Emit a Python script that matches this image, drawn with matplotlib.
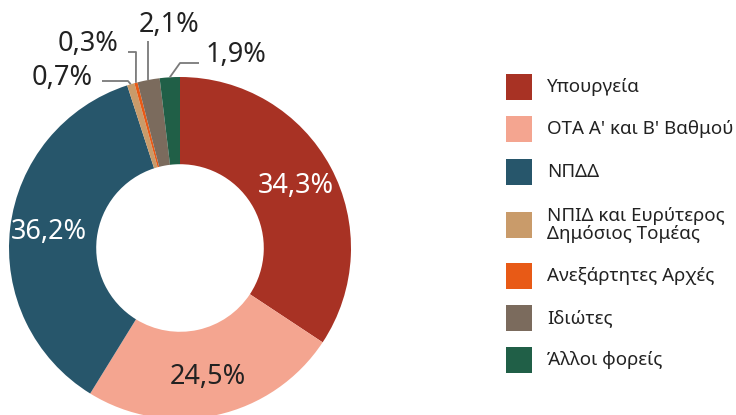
import matplotlib
matplotlib.use("Agg")
import matplotlib.pyplot as plt
import numpy as np
from matplotlib.patches import Rectangle

plt.rcParams["font.family"] = ["Noto Sans", "DejaVu Sans"]

labels = [
    "Υπουργεία",
    "ΟΤΑ Α' και Β' Βαθμού",
    "ΝΠΔΔ",
    "ΝΠΙΔ και Ευρύτερος\nΔημόσιος Τομέας",
    "Ανεξάρτητες Αρχές",
    "Ιδιώτες",
    "Άλλοι φορείς",
]
values = [34.3, 24.5, 36.2, 0.7, 0.3, 2.1, 1.9]
colors = ["#A83224", "#F4A590", "#27566B", "#C99B6A", "#E85A16", "#7B6B5D", "#205F47"]
inside_text = ["white", "#222222", "white"]

W, H = 736, 415
CX, CY, R = 180, 415 - 248, 171

fig = plt.figure(figsize=(W / 100, H / 100), dpi=100)
ax = fig.add_axes([0, 0, 1, 1])
ax.pie(values, colors=colors, center=(CX, CY), radius=R, startangle=90,
       counterclock=False, wedgeprops=dict(width=R * 0.51, linewidth=0))
ax.set_xlim(0, W)
ax.set_ylim(0, H)
ax.set_aspect("equal")
ax.axis("off")

cum = np.cumsum([0] + values)
mid = 90 - 360 * (cum[:-1] + np.array(values) / 2) / 100


def fmt(v):
    return f"{v:.1f}".replace(".", ",") + "%"


# labels inside the big wedges
for i, col in enumerate(inside_text):
    a = np.radians(mid[i])
    ax.text(CX + 0.77 * R * np.cos(a), CY + 0.77 * R * np.sin(a), fmt(values[i]),
            ha="center", va="center", fontsize=19.5, color=col)

# small wedges: label position and leader elbow (pixel coords, y down)
outside = {
    3: ((62, 78), [(102, 81), (128, 81)]),
    4: ((88, 44), [(128, 52), (136, 52)]),
    5: ((169, 25), [(149, 41)]),
    6: ((236, 55), [(199, 63), (180, 63)]),
}
for i, ((tx, ty), elbow) in outside.items():
    a = np.radians(mid[i])
    ex, ey = CX + R * np.cos(a), CY + R * np.sin(a)
    pts = [(x, H - y) for x, y in elbow] + [(ex, ey)]
    if i == 5:
        pts = [(ex, H - 41), (ex, ey)]
    xs, ys = zip(*pts)
    ax.plot(xs, ys, color="#7a7a7a", lw=1.3, solid_capstyle="butt")
    ax.text(tx, H - ty, fmt(values[i]), ha="center", va="center",
            fontsize=19.5, color="#222222")

# legend
rows_y = [87, 129, 172, 225, 276, 318, 360]
for lab, col, y in zip(labels, colors, rows_y):
    ax.add_patch(Rectangle((506, H - y - 13), 26, 26, color=col, lw=0))
    ax.text(547, H - y, lab, ha="left", va="center", fontsize=13.5,
            color="#222222", linespacing=1.0)

fig.savefig("out.png", dpi=100)
